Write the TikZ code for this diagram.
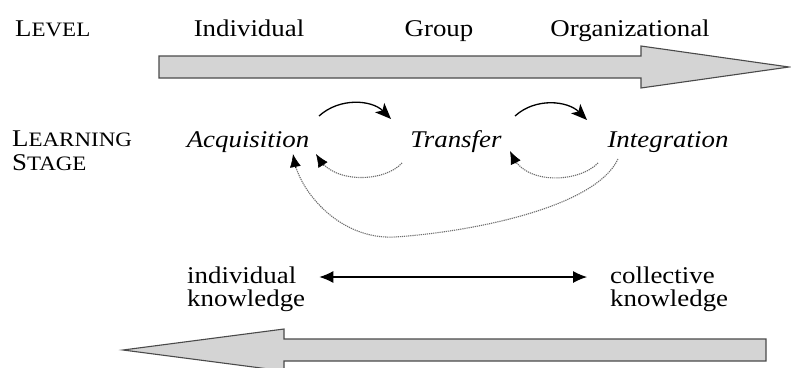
\documentclass[tikz,border=0pt]{standalone}
\usepackage{fontspec}
\setmainfont{Liberation Serif}[FakeStretch=1.12]
\usetikzlibrary{arrows.meta,calc}
\newcommand\myfsc[2]{#1{\fontsize{20.5}{20.5}\selectfont #2}}
\definecolor{arrowfill}{HTML}{D4D4D4}
\definecolor{arrowline}{HTML}{4A4A4A}
\definecolor{dotline}{HTML}{6E6E6E}
\tikzset{
  lbl/.style={inner sep=0pt, font=\fontsize{24}{23.5}\selectfont},
  stage/.style={lbl, font=\fontsize{24}{23.5}\selectfont\itshape},
  bigarrow/.style={fill=arrowfill, draw=arrowline, line width=1.1pt, line join=miter},
  solidcurve/.style={line width=1.3pt, -{Stealth[length=16pt,width=13pt,inset=4pt]}},
  dotcurve/.style={draw=dotline, line width=1.1pt, dash pattern=on 1.2pt off 0.9pt},
  dottip/.style={draw=black, line width=0.6pt, -{Latex[length=13pt,width=11pt]}},
  dblarrow/.style={line width=1.1pt, {Latex[length=14pt,width=12pt]}-{Latex[length=14pt,width=12pt]}}
}
\begin{document}
\begin{tikzpicture}[x=1pt,y=-1pt]
\useasboundingbox (0,0) rectangle (791,367);
% header labels
\node[lbl, anchor=base west] (level) at (15,36) {\myfsc{L}{EVEL}};
\node[lbl, anchor=base] (indiv) at (249,36) {Individual};
\node[lbl, anchor=base] (group) at (439,36) {Group};
\node[lbl, anchor=base] (org) at (630,36) {Organizational};
% top big arrow
\draw[bigarrow] (159,56) -- (641,56) -- (641,46) -- (789,67) -- (641,88) -- (641,78) -- (159,78) -- cycle;
% learning stage
\node[lbl, anchor=north west, align=left] (ls) at (12,131) {\myfsc{L}{EARNING}\\\myfsc{S}{TAGE}};
\node[stage, anchor=base] (acq) at (248,147) {Acquisition};
\node[stage, anchor=base] (tra) at (456,147) {Transfer};
\node[stage, anchor=base] (int) at (668,147) {Integration};
% connector end points
\coordinate (a1) at (319,116); \coordinate (t1) at (391,119);
\coordinate (t2) at (515,116); \coordinate (i1) at (587,120);
\coordinate (t3) at (402,163); \coordinate (a2) at (316,154);
\coordinate (i2) at (598,163); \coordinate (t4) at (510,151);
\coordinate (i3) at (618,159); \coordinate (a3) at (293,154);
\coordinate (mid) at (395,237);
% solid forward arrows
\draw[solidcurve] (a1) .. controls (340,97) and (372,100) .. (t1);
\draw[solidcurve] (t2) .. controls (536,97) and (568,101) .. (i1);
% dotted feedback arrows
\draw[dotcurve] (t3) .. controls (385,182) and (335,184) .. ($(a2)!6pt!(335,184)$);
\draw[dottip] ($(a2)!14pt!(335,184)$) -- (a2);
\draw[dotcurve] (i2) .. controls (580,182) and (527,186) .. ($(t4)!6pt!(527,186)$);
\draw[dottip] ($(t4)!14pt!(527,186)$) -- (t4);
\draw[dotcurve] (i3) .. controls (595,208) and (470,232) .. (mid) .. controls (340,240) and (300,192) .. ($(a3)!6pt!(300,192)$);
\draw[dottip] ($(a3)!14pt!(300,192)$) -- (a3);
% knowledge
\node[lbl, anchor=north west, align=left] (ik) at (187,266.5) {individual\\knowledge};
\node[lbl, anchor=north west, align=left] (ck) at (610,266.5) {collective\\knowledge};
\path (ik.east |- 0,277) ++(14,0) coordinate (d1);
\path (ck.west |- 0,277) ++(-23,0) coordinate (d2);
\draw[dblarrow] (d1) -- (d2);
% bottom big arrow
\draw[bigarrow] (766,339) -- (284,339) -- (284,329) -- (123,350) -- (284,371) -- (284,361) -- (766,361) -- cycle;
\end{tikzpicture}
\end{document}
